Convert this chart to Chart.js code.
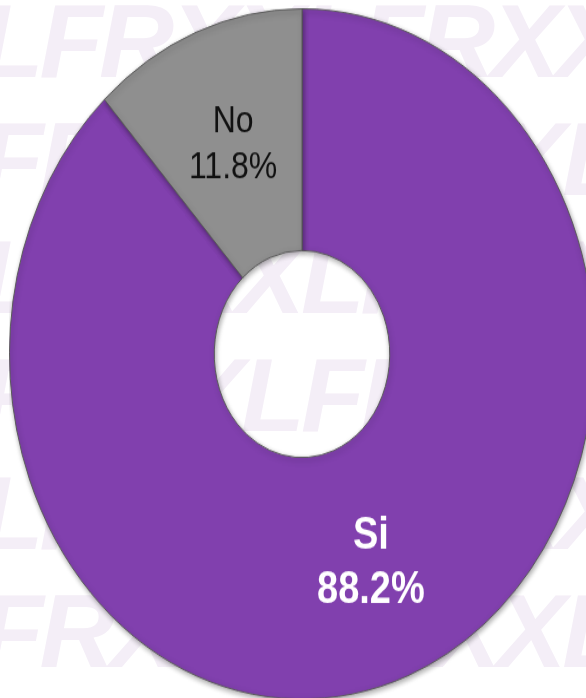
<!DOCTYPE html>
<html>
<head>
<meta charset="utf-8">
<script src="https://cdn.jsdelivr.net/npm/chart.js@4/dist/chart.umd.min.js"></script>
<style>
  html, body { margin: 0; padding: 0; background: #fff; overflow: hidden; }
  body { width: 586px; height: 698px; position: relative; }
  #mark {
    position: absolute; left: -20px; top: -18px; width: 640px;
    font-family: "Liberation Sans", Arial, sans-serif; font-weight: bold; font-style: italic;
    font-size: 104px; line-height: 118px; color: #f4eef7; white-space: nowrap;
    letter-spacing: -4px; user-select: none;
  }
  #wrap {
    position: absolute; left: 9px; top: 61px; width: 586px; height: 586px;
    transform: scaleY(1.18); transform-origin: 50% 50%;
  }
</style>
</head>
<body>
<div id="mark">
  <div>LFRXXLFRXX</div>
  <div>FRXXLFRXXL</div>
  <div>LFRXXLFRXX</div>
  <div>FRXXLFRXXL</div>
  <div>LFRXXLFRXX</div>
  <div>FRXXLFRXXL</div>
</div>
<div id="wrap"><canvas id="donut"></canvas></div>
<script>
const labels = ["Si", "No"];
const shares = [88.2, 11.8];
const colors = ["#8140ae", "#8f8f8f"];
const textColors = ["#ffffff", "#111111"];

// draw the "Si / 88.2%" style labels in the middle of each slice
const sliceLabels = {
  id: "sliceLabels",
  afterDatasetsDraw(chart) {
    const ctx = chart.ctx;
    const arcs = chart.getDatasetMeta(0).data;
    arcs.forEach((arc, i) => {
      const pos = arc.tooltipPosition();
      const bold = i === 0;
      const size = bold ? 38 : 32;
      ctx.save();
      ctx.fillStyle = textColors[i];
      ctx.font = `${bold ? "bold " : ""}${size}px "Liberation Sans", Arial, sans-serif`;
      ctx.textAlign = "center";
      ctx.textBaseline = "middle";
      const gap = size * 1.22;
      ctx.fillText(labels[i], pos.x, pos.y - gap / 2);
      ctx.fillText(shares[i].toFixed(1) + "%", pos.x, pos.y + gap / 2);
      ctx.restore();
    });
  }
};

const softShadow = {
  id: "softShadow",
  beforeDatasetDraw(chart) {
    const ctx = chart.ctx;
    ctx.save();
    ctx.shadowColor = "rgba(0,0,0,0.35)";
    ctx.shadowBlur = 5;
    ctx.shadowOffsetX = 1;
    ctx.shadowOffsetY = 2;
  },
  afterDatasetDraw(chart) {
    chart.ctx.restore();
  }
};

new Chart(document.getElementById("donut"), {
  type: "doughnut",
  data: {
    labels: labels,
    datasets: [{
      data: shares,
      backgroundColor: colors,
      borderColor: "#5a5a5a",
      borderWidth: 1
    }]
  },
  options: {
    responsive: true,
    maintainAspectRatio: false,
    animation: false,
    cutout: "30%",
    layout: { padding: 0 },
    plugins: {
      legend: { display: false },
      tooltip: { enabled: false }
    }
  },
  plugins: [softShadow, sliceLabels]
});
</script>
</body>
</html>
